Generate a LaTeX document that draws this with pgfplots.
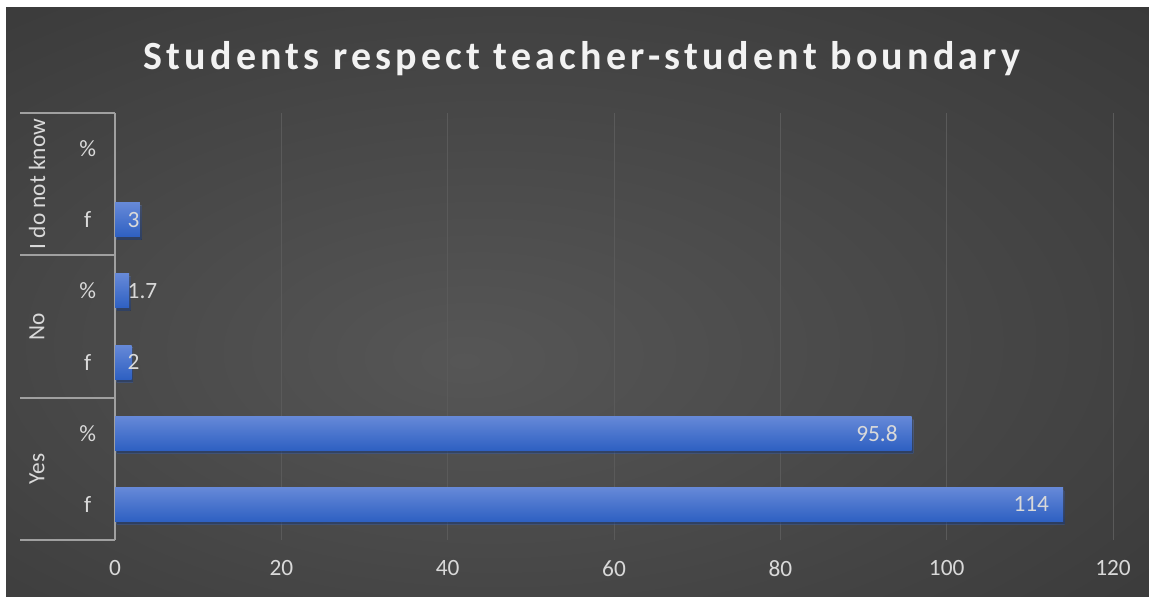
\documentclass[border=0pt]{standalone}
\usepackage{pgfplots}
\pgfplotsset{compat=1.18}
\usepackage{fontspec}
\setmainfont{Carlito}
\newfontfamily\titlefont[LetterSpace=10.5, UprightFont={* Bold}]{Carlito}
\definecolor{bgin}{HTML}{565656}
\definecolor{bgout}{HTML}{232323}
\definecolor{txt}{HTML}{D9D9D9}
\definecolor{gridc}{HTML}{5A5A5A}
\definecolor{axl}{HTML}{A0A0A0}
\definecolor{bartop}{HTML}{6689D8}
\definecolor{barbot}{HTML}{2E60C2}
\pgfdeclareradialshading{bgshade}{\pgfpoint{-5bp}{-5bp}}{color(0bp)=(bgin); color(68bp)=(bgout)}
\begin{document}
\begin{tikzpicture}
\fill[white] (0,0) rectangle (861.75pt,449.25pt);
\shade[shading=bgshade] (4.5pt,1.5pt) rectangle (861.75pt,443.25pt);
\node[font=\titlefont\fontsize{30}{35}\selectfont, text=white!95!black] at (436.5pt,405pt) {Students respect teacher-student boundary};
\begin{axis}[
 at={(86.25pt,44.25pt)}, anchor=south west,
 scale only axis, width=748.5pt, height=320.25pt,
 xbar, bar width=0.48, bar shift=0pt,
 xmin=0, xmax=120, ymin=-0.5, ymax=5.5,
 xtick={0,20,...,120}, ytick={0,...,5}, yticklabels={f,\%,f,\%,f,\%},
 xmajorgrids, major grid style={gridc, line width=0.75pt},
 separate axis lines,
 axis x line*=bottom, x axis line style={draw=none},
 axis y line*=left, y axis line style={axl, line width=1.5pt, -},
 major tick length=0,
 tick label style={font=\fontsize{17.5}{21}\selectfont, text=txt},
 /pgf/number format/assume math mode=true,
 xticklabel style={yshift=-12pt},
 yticklabel style={anchor=center, xshift=-20.5pt},
 clip=false,
 nodes near coords style={font=\fontsize{17.5}{21}\selectfont, text=txt},
 barstyle/.style={draw=none, top color=bartop, bottom color=barbot,
   preaction={fill=black, fill opacity=0.35, transform canvas={xshift=1.2pt, yshift=-2.2pt}}},
]
\addplot[barstyle, nodes near coords, point meta=explicit symbolic,
  every node near coord/.append style={anchor=east, xshift=-7pt}]
  coordinates {(114,0)[114]};
\addplot[barstyle, nodes near coords, point meta=explicit symbolic,
  every node near coord/.append style={anchor=east, xshift=-7pt}]
  coordinates {(95.8,1)[95.8]};
\addplot[barstyle] coordinates {(2,2)};
\addplot[barstyle] coordinates {(1.7,3)};
\addplot[barstyle] coordinates {(3,4)};
\addplot[draw=none, fill=none, bar width=0,
  nodes near coords, point meta=explicit symbolic,
  every node near coord/.append style={anchor=west, xshift=6pt}]
  coordinates {(0,2)[2] (0,3)[1.7] (0,4)[3]};
\foreach \yy in {-0.5,1.5,3.5,5.5}{
  \edef\tmp{\noexpand\draw[axl, line width=1.5pt] (axis cs:0,\yy) -- ++(-71.25pt,0pt);}
  \tmp
}
\node[rotate=90, font=\fontsize{17.5}{21}\selectfont, text=txt] at ([xshift=-58.5pt]axis cs:0,0.5) {Yes};
\node[rotate=90, font=\fontsize{17.5}{21}\selectfont, text=txt] at ([xshift=-58.5pt]axis cs:0,2.5) {No};
\node[rotate=90, font=\fontsize{17.5}{21}\selectfont, text=txt] at ([xshift=-58.5pt]axis cs:0,4.5) {I do not know};
\end{axis}
\end{tikzpicture}
\end{document}
